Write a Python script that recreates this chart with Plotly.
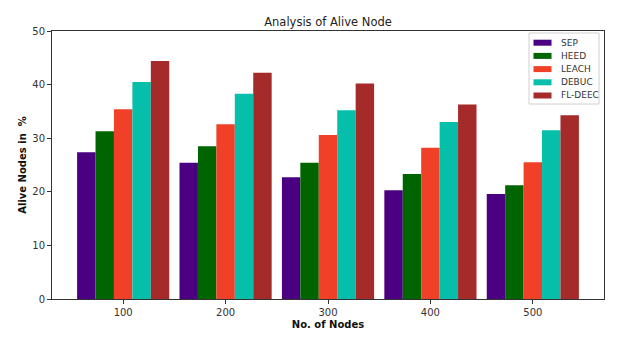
import plotly.graph_objects as go

categories = ["100", "200", "300", "400", "500"]
series_names = ["SEP", "HEED", "LEACH", "DEBUC", "FL-DEEC"]
sep = [27.4, 25.4, 22.7, 20.3, 19.6]
heed = [31.3, 28.5, 25.4, 23.3, 21.2]
leach = [35.4, 32.6, 30.6, 28.2, 25.5]
debuc = [40.5, 38.3, 35.2, 33.0, 31.5]
fl_deec = [44.4, 42.2, 40.2, 36.3, 34.3]
y_ticks = [0, 10, 20, 30, 40, 50]

values = [sep, heed, leach, debuc, fl_deec]
colors = ["#4B0082", "#006400", "#F04128", "#05BFAA", "#A52A2A"]

x = list(range(len(categories)))
fig = go.Figure()
for name, vals, c in zip(series_names, values, colors):
    fig.add_trace(go.Bar(x=x, y=vals, name=name, showlegend=False,
                         marker=dict(color=c, line=dict(width=0))))

axis_common = dict(showline=True, linecolor="#333333", linewidth=1, mirror=True,
                   ticks="outside", ticklen=4, tickcolor="#333333", showgrid=False, zeroline=False,
                   tickfont=dict(size=10, color="#333333"))

# Plot area (page px) : x 52..604, y 31..299 (page body adds an 8px offset)
PW, PH = 552.0, 268.0
def px_x(p):
    return (p - 52) / PW
def px_y(p):
    return (299 - p) / PH

shapes = [dict(type="rect", xref="paper", yref="paper",
               x0=px_x(529), x1=px_x(599), y0=px_y(104), y1=px_y(33),
               fillcolor="white", line=dict(color="#d0d0d0", width=1), layer="above")]
annotations = []
for i, (name, c) in enumerate(zip(series_names, colors)):
    cy = 42.7 + 13.2 * i
    shapes.append(dict(type="rect", xref="paper", yref="paper",
                       x0=px_x(533.5), x1=px_x(551.5), y0=px_y(cy + 3), y1=px_y(cy - 3),
                       fillcolor=c, line=dict(width=0), layer="above"))
    annotations.append(dict(text=name, xref="paper", yref="paper", x=px_x(558.5), y=px_y(cy),
                            xanchor="left", yanchor="middle", showarrow=False,
                            font=dict(size=9, color="#333333")))

fig.update_layout(
    width=623, height=338,
    paper_bgcolor="white", plot_bgcolor="white",
    margin=dict(l=44, r=27, t=23, b=47, autoexpand=False),
    font=dict(family="DejaVu Sans", color="#222222"),
    barmode="group", bargap=0.1, bargroupgap=0,
    showlegend=False,
    shapes=shapes, annotations=annotations,
    title=dict(text="Analysis of Alive Node", x=0.5, xanchor="center", xref="paper",
               y=1, yref="paper", yanchor="bottom", pad=dict(b=5), font=dict(size=11.5, color="#222222")),
    xaxis=dict(range=[-0.695, 4.695], tickmode="array", tickvals=x, ticktext=categories,
               title=dict(text="<b>No. of Nodes</b>", font=dict(size=10, color="#111111"), standoff=3),
               **axis_common),
    yaxis=dict(range=[0, 50], tickmode="array", tickvals=y_ticks,
               title=dict(text="<b>Alive Nodes in  %</b>", font=dict(size=10, color="#111111"), standoff=3),
               **axis_common),
)

fig.write_html("out.html")
